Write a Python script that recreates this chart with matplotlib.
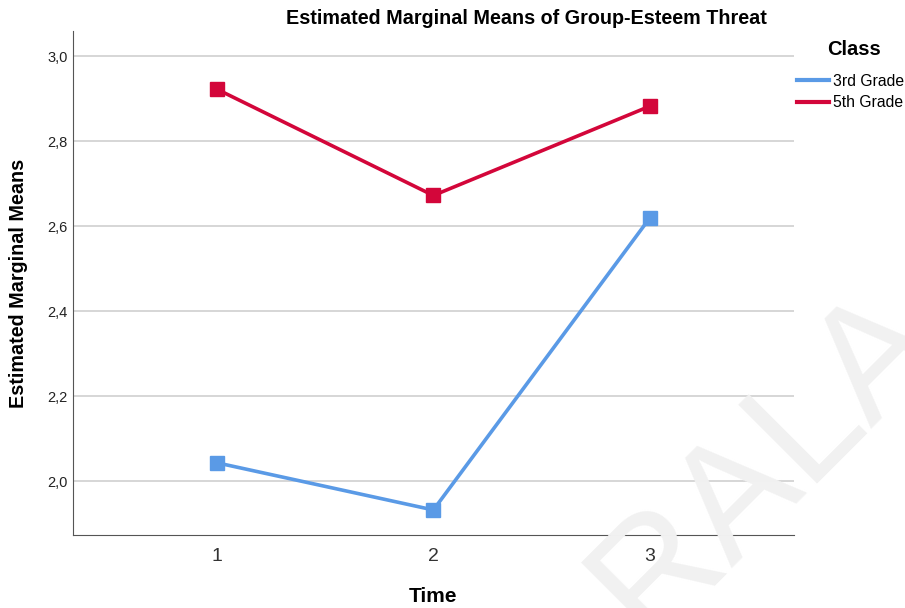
import matplotlib.pyplot as plt

plt.rcParams['font.family'] = ['Liberation Sans', 'DejaVu Sans']

time_points = [1, 2, 3]
third_grade = [2.043, 1.932, 2.619]
fifth_grade = [2.922, 2.672, 2.882]
y_ticks = [2.0, 2.2, 2.4, 2.6, 2.8, 3.0]
y_tick_labels = ['2,0', '2,2', '2,4', '2,6', '2,8', '3,0']

fig = plt.figure(figsize=(9.05, 6.08), dpi=100)
ax = fig.add_axes([0.0807, 0.12, 0.7963, 0.829])

# watermark
fig.text(0.715, -0.054, 'RALA', fontsize=116, color='#f1f1f1', rotation=45,
         rotation_mode='anchor', ha='left', va='baseline', zorder=0)
ax.set_facecolor('none')

for y in y_ticks:
    ax.axhline(y, color='#d0d0d0', lw=1.2, zorder=1)

l1, = ax.plot(time_points, third_grade, color='#5a9ae6', lw=2.6, marker='s',
              markersize=10, zorder=3)
l2, = ax.plot(time_points, fifth_grade, color='#d3063a', lw=2.6, marker='s',
              markersize=10, zorder=3)

ax.set_xlim(0.335, 3.665)
ax.set_ylim(1.873, 3.059)
ax.set_xticks(time_points)
ax.set_xticklabels(['1', '2', '3'], fontsize=14, color='#333333')
ax.set_yticks(y_ticks)
ax.set_yticklabels(y_tick_labels, fontsize=10.5, color='#222222')
ax.tick_params(length=0, pad=4)
ax.tick_params(axis='x', pad=9)

for s in ['top', 'right']:
    ax.spines[s].set_visible(False)
ax.spines['left'].set_color('#555555')
ax.spines['bottom'].set_color('#555555')

ax.set_xlabel('Time', fontsize=15, fontweight='bold', va='center')
ax.xaxis.set_label_coords(0.5, -0.121)
ax.set_ylabel('Estimated Marginal Means', fontsize=14.2, fontweight='bold', va='center')
ax.yaxis.set_label_coords(-0.076, 0.5)
fig.text(0.582, 0.97, 'Estimated Marginal Means of Group-Esteem Threat',
         fontsize=14.2, fontweight='bold', ha='center', va='center')

h1 = plt.Line2D([], [], color='#5a9ae6', lw=3)
h2 = plt.Line2D([], [], color='#d3063a', lw=3)
leg = fig.legend([h1, h2], ['3rd Grade', '5th Grade'], loc='upper left',
                 bbox_to_anchor=(0.881, 0.879), frameon=False, fontsize=11.3,
                 handlelength=2.0, handletextpad=0.3, labelspacing=0.42,
                 borderaxespad=0, borderpad=0)
fig.text(0.944, 0.918, 'Class', fontsize=14.5, fontweight='bold', ha='center', va='center')

fig.savefig('out.png', dpi=100)
